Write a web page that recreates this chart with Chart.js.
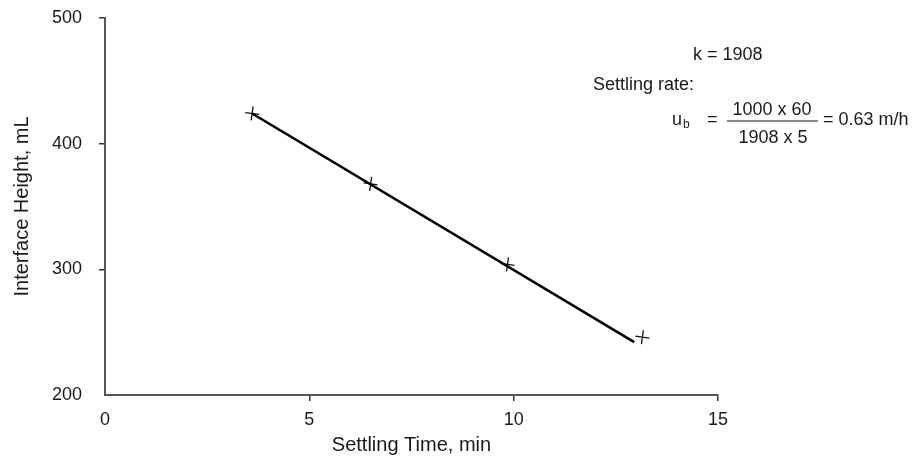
<!DOCTYPE html>
<html>
<head>
<meta charset="utf-8">
<script src="https://cdn.jsdelivr.net/npm/chart.js@4"></script>
<style>
  html, body { margin: 0; padding: 0; background: #fff; }
  #chart { display: block; }
</style>
</head>
<body>
<canvas id="chart" width="923" height="457"></canvas>
<script>
// measured interface heights
var timeMin = [3.6, 6.5, 9.85, 13.15]
var heightMl = [424, 368, 304, 246]

// straight line drawn through the points
var fitTime = [3.6, 12.95]
var fitHeight = [424, 242]

var xTicks = [0, 5, 10, 15]
var yTicks = [200, 300, 400, 500]

var FONT = '"Liberation Sans", Arial, Helvetica, sans-serif'
var INK = '#1a1a1a'

function pairs(xs, ys) {
  return xs.map(function (x, i) { return { x: x, y: ys[i] } })
}

// the note to the right of the plot
var notePlugin = {
  id: 'note',
  afterDraw: function (chart) {
    var ctx = chart.ctx
    ctx.save()
    ctx.fillStyle = INK
    ctx.textBaseline = 'middle'
    ctx.font = '18px ' + FONT
    ctx.textAlign = 'left'
    ctx.fillText('k = 1908', 693, 55)
    ctx.fillText('Settling rate:', 593, 85)

    ctx.fillText('u', 672, 120)
    ctx.font = '12px ' + FONT
    ctx.fillText('b', 683, 125)
    ctx.font = '18px ' + FONT
    ctx.fillText('=', 707, 120)

    ctx.textAlign = 'center'
    ctx.fillText('1000 x 60', 772, 110)
    ctx.fillText('1908 x 5', 773, 138)
    ctx.strokeStyle = INK
    ctx.lineWidth = 1.2
    ctx.beginPath()
    ctx.moveTo(727, 121)
    ctx.lineTo(818, 121)
    ctx.stroke()

    ctx.textAlign = 'left'
    ctx.fillText('= 0.63 m/h', 823, 120)
    ctx.restore()
  }
}

function tickColor(c) {
  var v = c.tick ? c.tick.value : null
  return (v === 0 || v === 200) ? 'rgba(0,0,0,0)' : '#333'
}

new Chart(document.getElementById('chart'), {
  type: 'scatter',
  data: {
    datasets: [
      {
        label: 'fit',
        data: pairs(fitTime, fitHeight),
        showLine: true,
        borderColor: '#000',
        borderWidth: 2.6,
        pointRadius: 0
      },
      {
        label: 'measured',
        data: pairs(timeMin, heightMl),
        showLine: false,
        pointStyle: 'cross',
        pointRadius: 7,
        pointRotation: 8,
        borderColor: '#111',
        borderWidth: 1.3
      }
    ]
  },
  options: {
    responsive: false,
    animation: false,
    layout: { padding: { top: 18, right: 205, left: 0, bottom: 0 } },
    plugins: {
      legend: { display: false },
      tooltip: { enabled: false }
    },
    scales: {
      x: {
        type: 'linear',
        min: 0,
        max: 15,
        afterBuildTicks: function (s) { s.ticks = xTicks.map(function (v) { return { value: v } }) },
        afterFit: function (s) { s.height = 62; s.paddingLeft = 0; s.paddingRight = 0 },
        border: { display: true, color: '#555', width: 2 },
        grid: { drawOnChartArea: false, drawTicks: true, tickLength: 6, color: tickColor, lineWidth: 1.5 },
        ticks: { color: INK, font: { family: FONT, size: 18 }, padding: 8, maxRotation: 0 },
        title: {
          display: true,
          text: 'Settling Time, min',
          color: INK,
          font: { family: FONT, size: 20 },
          padding: { top: 0, bottom: 0 }
        }
      },
      y: {
        type: 'linear',
        min: 200,
        max: 500,
        afterBuildTicks: function (s) { s.ticks = yTicks.map(function (v) { return { value: v } }) },
        afterFit: function (s) { s.width = 105; s.paddingTop = 0; s.paddingBottom = 0 },
        border: { display: true, color: '#555', width: 2 },
        grid: { drawOnChartArea: false, drawTicks: true, tickLength: 6, color: tickColor, lineWidth: 1.5 },
        ticks: { color: INK, font: { family: FONT, size: 18 }, padding: 17 },
        title: {
          display: true,
          text: 'Interface Height, mL',
          color: INK,
          font: { family: FONT, size: 20 },
          padding: { top: 10, bottom: 0 }
        }
      }
    }
  },
  plugins: [notePlugin]
})
</script>
</body>
</html>
